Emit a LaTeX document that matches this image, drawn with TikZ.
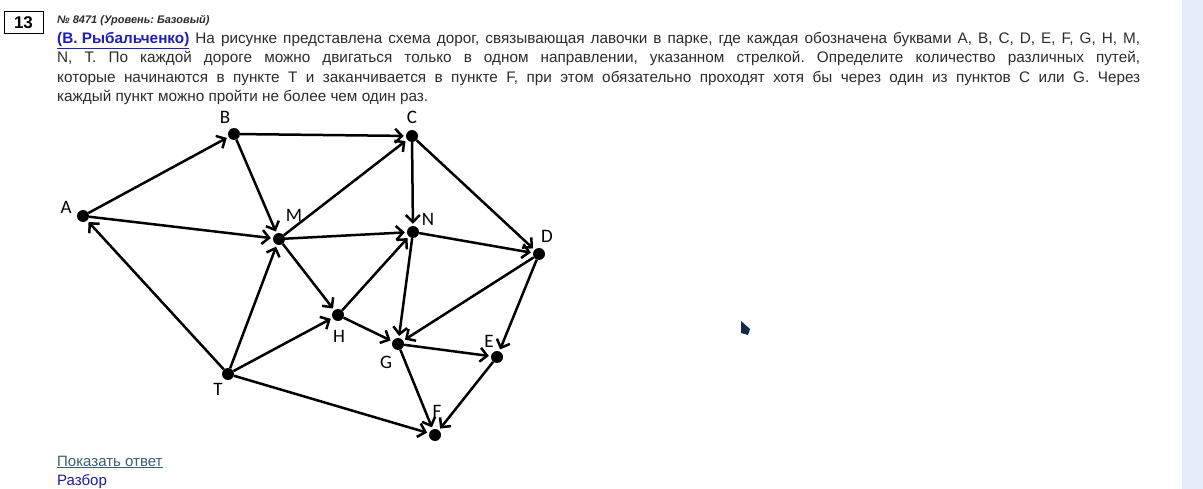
\documentclass[tikz,border=0pt]{standalone}
\usepackage{fontspec}
\setmainfont{Liberation Sans}
\newfontfamily\graphfont{Carlito}
\usepackage{xcolor}
\usepackage{tikz}
\usetikzlibrary{arrows.meta, positioning}
\definecolor{textgray}{HTML}{2B2B2B}
\definecolor{namecol}{HTML}{1F1FB8}
\definecolor{showcol}{HTML}{3E5A78}
\definecolor{linkcol}{HTML}{1A1AA6}
\definecolor{stripblue}{HTML}{E6ECF8}
\definecolor{cursorblue}{HTML}{0F2A4A}
\frenchspacing
\tikzset{
    bench/.style={
        circle,
        fill=black,
        inner sep=0pt,
        minimum size=12pt,
    },
    letter/.style={
        font=\graphfont\fontsize{19}{19}\selectfont,
        inner sep=0pt,
    },
    road/.style={
        ->,
        line width=2.5pt,
        shorten >=2pt,
    },
}

\begin{document}
\begin{tikzpicture}[x=1pt,y=-1pt,>={Straight Barb[length=7pt,width=14pt]}]
      \useasboundingbox (0,0) rectangle (1203,489);
      \fill[stripblue] (1182,0) rectangle (1203,489);

      % header
      \node [draw, line width=1pt, minimum width=39pt, minimum height=22pt, inner sep=0pt,
             font=\bfseries\fontsize{17}{17}\selectfont] (num) at (23.5,23) {13};
      \node [anchor=base west, inner sep=0pt, text=textgray,
             font=\bfseries\itshape\fontsize{11}{12}\selectfont] (level) at (57,24) {№ 8471 (Уровень: Базовый)};
      \node [anchor=north west, inner sep=0pt, text width=1083pt, align=justify, text=textgray,
             font=\fontsize{15.3}{19.5}\selectfont] (task) at (57,32)
            {{\color{namecol}\bfseries\underline{(В. Рыбальченко)}} На рисунке представлена схема дорог, связывающая лавочки в парке, где каждая обозначена буквами A, B, C, D, E, F, G, H, M,\linebreak
             N, T. По каждой дороге можно двигаться только в одном направлении, указанном стрелкой. Определите количество различных путей,\linebreak
             которые начинаются в пункте T и заканчивается в пункте F, при этом обязательно проходят хотя бы через один из пунктов C или G. Через\linebreak
             каждый пункт можно пройти не более чем один раз.};

      % benches
      \node [bench] (A) at (83,216) {};
      \node [bench] (B) at (234,134) {};
      \node [bench] (C) at (412,136) {};
      \node [bench] (M) at (279,239) {};
      \node [bench] (N) at (413,232) {};
      \node [bench] (D) at (539,254) {};
      \node [bench] (H) at (338,315) {};
      \node [bench] (G) at (398,344) {};
      \node [bench] (E) at (497,357) {};
      \node [bench] (T) at (228,374) {};
      \node [bench] (F) at (435,435) {};

      \node [letter] (lA) at (66,207) {A};
      \node [letter] (lB) at (225,117) {B};
      \node [letter] (lC) at (412,117) {C};
      \node [letter] (lM) at (294,215) {M};
      \node [letter] (lN) at (428,219) {N};
      \node [letter] (lD) at (547,236) {D};
      \node [letter] (lH) at (339,336) {H};
      \node [letter] (lG) at (386,362) {G};
      \node [letter] (lE) at (489,341) {E};
      \node [letter] (lT) at (218,389) {T};
      \node [letter] (lF) at (437,411) {F};

      % roads
      \path[road] (A) edge (B);
      \path[road] (A) edge (M);
      \path[road] (T) edge (A);
      \path[road] (B) edge (C);
      \path[road] (B) edge (M);
      \path[road] (M) edge (C);
      \path[road] (M) edge (N);
      \path[road] (M) edge (H);
      \path[road] (C) edge (N);
      \path[road] (C) edge (D);
      \path[road] (N) edge (D);
      \path[road] (H) edge (N);
      \path[road] (T) edge (M);
      \path[road] (T) edge (H);
      \path[road] (T) edge (F);
      \path[road] (H) edge (G);
      \path[road] (N) edge (G);
      \path[road] (D) edge (G);
      \path[road] (D) edge (E);
      \path[road] (G) edge (E);
      \path[road] (G) edge (F);
      \path[road] (E) edge (F);

      % links
      \node [anchor=base west, inner sep=0pt, text=showcol, font=\fontsize{15}{18}\selectfont] (show) at (57,466) {\underline{Показать ответ}};
      \node [anchor=base west, inner sep=0pt, text=linkcol, font=\fontsize{15}{18}\selectfont] (parse) at (57,485) {\underline{Разбор}};

      % cursor
      \fill[cursorblue] (741,321) -- (750,329) -- (748,335) -- (741,333) -- cycle;
    \end{tikzpicture}
\end{document}
